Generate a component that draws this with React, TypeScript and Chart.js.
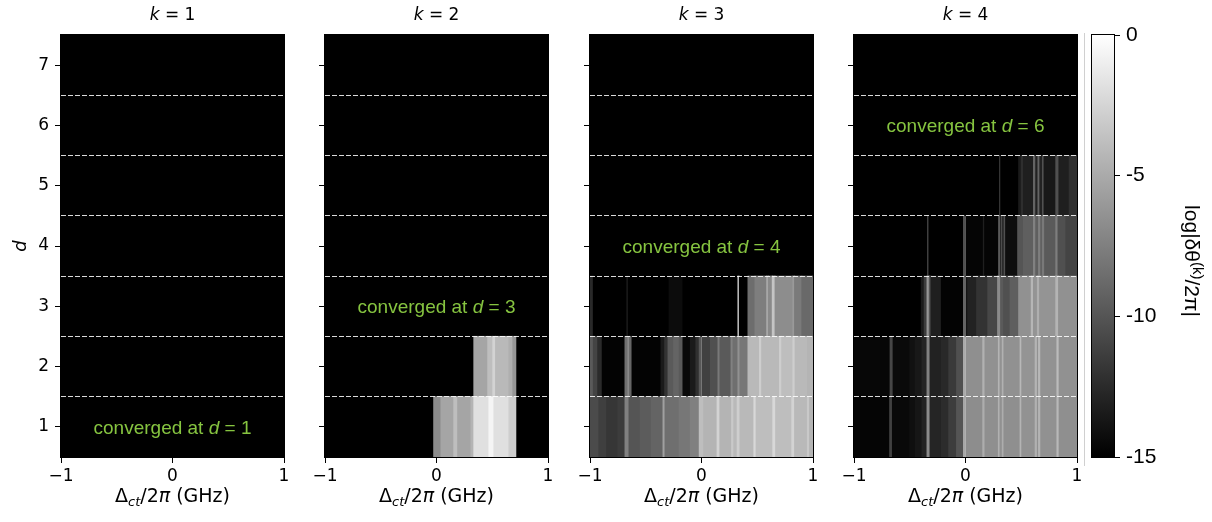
import React, { useEffect, useRef } from 'react';
import { Chart, registerables } from 'chart.js';
Chart.register(...registerables);

// ---------- data ----------
const K_VALUES = [1, 2, 3, 4];
const D_VALUES = [1, 2, 3, 4, 5, 6, 7];
const ROW_EDGES = [1.5, 2.5, 3.5, 4.5, 5.5, 6.5];
const X_TICKS = [-1, 0, 1];
const CB_TICKS = [-15, -10, -5, 0];
const CONVERGED_AT = [1, 3, 4, 6];
const V_MIN = -15;
const V_MAX = 0;
const X_MIN = -1;
const X_MAX = 1;

// each row: list of [x where segment starts, log value]; segment ends at next start (or x = 1)
const BLACK_ROW = [[-1, -15]];

const K1_ROWS = [BLACK_ROW, BLACK_ROW, BLACK_ROW, BLACK_ROW, BLACK_ROW, BLACK_ROW, BLACK_ROW];

const K2_D1 = [[-1, -15], [-0.025, -6.8], [0.04, -5.3], [0.155, -3.8], [0.19, -5.3], [0.31, -4.4], [0.335, -1.8], [0.47, -0.6], [0.515, -1.8], [0.65, -2.9], [0.72, -15]];
const K2_D2 = [[-1, -15], [0.335, -5.3], [0.46, -3.8], [0.505, -2.6], [0.53, -4.1], [0.65, -4.7], [0.685, -6.2], [0.72, -15]];
const K2_ROWS = [K2_D1, K2_D2, BLACK_ROW, BLACK_ROW, BLACK_ROW, BLACK_ROW, BLACK_ROW];

const K3_D1 = [[-1, -10.6], [-0.92, -11.3], [-0.85, -11.8], [-0.75, -11.5], [-0.686, -7.4], [-0.65, -10.0], [-0.55, -9.6], [-0.45, -9.1], [-0.345, -5.6], [-0.327, -8.5], [-0.2, -8.0], [-0.1, -7.5], [-0.02, -3.8], [0.02, -4.4], [0.14, -2.6], [0.165, -4.4], [0.27, -3.2], [0.29, -4.1], [0.32, -2.9], [0.345, -4.1], [0.47, -2.3], [0.49, -3.8], [0.64, -2.3], [0.665, -3.8], [0.81, -2.6], [0.835, -4.1], [0.95, -3.2], [0.97, -4.4]];
const K3_D2 = [[-1, -9.7], [-0.97, -11.0], [-0.93, -12.5], [-0.89, -14.8], [-0.686, -8.5], [-0.66, -7.0], [-0.645, -9.0], [-0.623, -14.8], [-0.363, -13.5], [-0.33, -12.0], [-0.3, -9.7], [-0.25, -9.1], [-0.2, -9.7], [-0.166, -14.5], [-0.1, -13.5], [-0.05, -12.2], [-0.02, -9.8], [0.0, -11.2], [0.08, -10.3], [0.148, -7.9], [0.166, -9.7], [0.265, -7.4], [0.283, -8.5], [0.327, -6.5], [0.345, -8.0], [0.417, -4.1], [0.52, -2.9], [0.54, -4.1], [0.7, -2.9], [0.72, -3.8], [0.82, -2.9], [0.84, -4.1], [0.95, -4.4]];
const K3_D3 = [[-1, -12.6], [-0.97, -15], [-0.67, -13.6], [-0.655, -15], [-0.29, -14.3], [-0.166, -15], [0.327, -3.2], [0.34, -15], [0.417, -8.6], [0.48, -7.6], [0.585, -5.0], [0.6, -6.9], [0.635, -3.4], [0.66, -6.7], [0.82, -6.0], [0.835, -7.8], [0.9, -8.8]];
const K3_ROWS = [K3_D1, K3_D2, K3_D3, BLACK_ROW, BLACK_ROW, BLACK_ROW, BLACK_ROW];

const K4_D1 = [[-1, -14.7], [-0.68, -11.2], [-0.655, -14.5], [-0.5, -14.1], [-0.45, -13.7], [-0.39, -13.0], [-0.345, -6.8], [-0.318, -12.8], [-0.216, -12.4], [-0.15, -11.4], [-0.08, -10.0], [-0.018, -5.2], [0.0, -6.7], [0.155, -4.8], [0.175, -6.6], [0.295, -4.6], [0.31, -6.5], [0.33, -4.8], [0.345, -6.6], [0.49, -4.4], [0.505, -6.4], [0.625, -4.6], [0.645, -6.5], [0.655, -4.4], [0.675, -6.5], [0.82, -4.2], [0.84, -6.6]];
const K4_D2 = [[-1, -14.6], [-0.676, -10.9], [-0.649, -14.4], [-0.5, -14.0], [-0.45, -13.6], [-0.39, -12.9], [-0.345, -7.4], [-0.318, -13.0], [-0.216, -12.6], [-0.15, -11.6], [-0.08, -10.3], [-0.018, -5.0], [0.0, -6.6], [0.155, -4.6], [0.175, -6.5], [0.295, -4.4], [0.31, -6.4], [0.33, -4.6], [0.345, -6.5], [0.49, -4.2], [0.505, -6.3], [0.625, -4.4], [0.645, -6.4], [0.655, -4.2], [0.675, -6.4], [0.82, -4.0], [0.84, -6.5]];
const K4_D3 = [[-1, -15], [-0.396, -13.5], [-0.37, -11.5], [-0.345, -6.2], [-0.325, -10.0], [-0.31, -13.2], [-0.216, -14.8], [-0.018, -9.1], [0.0, -13.8], [0.02, -13.0], [0.1, -12.0], [0.2, -10.8], [0.288, -6.8], [0.315, -9.7], [0.342, -10.3], [0.4, -9.4], [0.477, -6.5], [0.59, -4.3], [0.61, -6.3], [0.645, -4.7], [0.665, -6.3], [0.81, -4.4], [0.835, -6.5]];
const K4_D4 = [[-1, -15], [-0.34, -10.9], [-0.328, -15], [-0.018, -10.3], [0.0, -14.7], [0.16, -13.2], [0.172, -14.7], [0.297, -9.7], [0.315, -13.0], [0.325, -9.7], [0.335, -14.0], [0.345, -10.3], [0.36, -14.2], [0.468, -10.0], [0.52, -9.4], [0.61, -7.4], [0.63, -9.4], [0.655, -7.6], [0.675, -9.4], [0.69, -7.9], [0.71, -9.7], [0.81, -7.6], [0.83, -10.3], [0.9, -11.0]];
const K4_D5 = [[-1, -15], [0.306, -11.5], [0.316, -15], [0.477, -13.5], [0.5, -12.3], [0.52, -13.2], [0.61, -9.1], [0.63, -13.0], [0.65, -9.1], [0.667, -13.0], [0.694, -8.5], [0.703, -13.6], [0.81, -10.3], [0.838, -13.2], [0.93, -12.2]];
const K4_ROWS = [K4_D1, K4_D2, K4_D3, K4_D4, K4_D5, BLACK_ROW, BLACK_ROW];

const PANEL_ROWS = [K1_ROWS, K2_ROWS, K3_ROWS, K4_ROWS];

// ---------- layout / style ----------
const PANEL_LEFTS = [61, 325, 590, 854];
const PANEL_W = 223;
const PLOT_TOP = 35;
const PLOT_H = 422;
const Y_AXIS_W = 60;
const RIGHT_PAD = 20;
const CANVAS_H = 522;
const CB_CANVAS_LEFT = 1080;
const CB_LEFT = 1092;
const CB_W = 22;
const AX_FONT = '"DejaVu Sans"';
const ANN_FONT = '"Liberation Sans"';
const GREEN = '#86c440';

function grayColor(v: number) {
  const t = Math.max(0, Math.min(1, (v - V_MIN) / (V_MAX - V_MIN)));
  const g = Math.round(255 * t);
  return `rgb(${g},${g},${g})`;
}

type Part = { t: string; italic?: boolean; scale?: number; dy?: number };

function drawRich(ctx: CanvasRenderingContext2D, parts: Part[], family: string, size: number, x: number, y: number, color: string) {
  const fonts = parts.map(p => `${p.italic ? 'italic ' : ''}${Math.round(size * (p.scale || 1))}px ${family}`);
  const widths = parts.map((p, i) => { ctx.font = fonts[i]; return ctx.measureText(p.t).width; });
  const total = widths.reduce((a, b) => a + b, 0);
  let cx = x - total / 2;
  ctx.textAlign = 'left';
  ctx.textBaseline = 'alphabetic';
  ctx.fillStyle = color;
  parts.forEach((p, i) => {
    ctx.font = fonts[i];
    ctx.fillText(p.t, cx, y + (p.dy || 0));
    cx += widths[i];
  });
}

function fmtX(v: number) {
  return v < 0 ? '\u2212' + Math.abs(v) : String(v);
}

function Panel({ idx }: { idx: number }) {
  const ref = useRef<HTMLCanvasElement>(null);
  useEffect(() => {
    const rows = PANEL_ROWS[idx];
    const datasets = rows.map((bps, r) => {
      const d = D_VALUES[r];
      return {
        data: bps.map((bp, i) => ({ y: d, x: [bp[0], i + 1 < bps.length ? bps[i + 1][0] : X_MAX] })),
        backgroundColor: bps.map(bp => grayColor(bp[1])),
        borderWidth: 0,
        grouped: false,
        barPercentage: 1,
        categoryPercentage: 1,
        inflateAmount: 0.5,
        xAxisID: 'x',
        yAxisID: 'y',
      };
    });
    const textPlugin = {
      id: 'panelText',
      afterDraw(chart: any) {
        const { ctx, chartArea, scales } = chart;
        ctx.save();
        ctx.strokeStyle = '#000';
        ctx.lineWidth = 1;
        ctx.strokeRect(chartArea.left - 0.5, chartArea.top - 0.5, chartArea.right - chartArea.left + 1, chartArea.bottom - chartArea.top + 1);
        const cx = (chartArea.left + chartArea.right) / 2;
        drawRich(ctx, [{ t: 'k', italic: true }, { t: ' = ' + K_VALUES[idx] }], AX_FONT, 17, cx, 20, '#000');
        drawRich(ctx, [{ t: 'Δ' }, { t: 'ct', italic: true, scale: 0.7, dy: 4 }, { t: '/2' }, { t: 'π', italic: true }, { t: ' (GHz)' }], AX_FONT, 19, cx, 502, '#000');
        const dc = CONVERGED_AT[idx];
        drawRich(ctx, [{ t: 'converged at ' }, { t: 'd', italic: true }, { t: ' = ' + dc }], ANN_FONT, 19, scales.x.getPixelForValue(0), scales.y.getPixelForValue(dc) + 7, GREEN);
        if (idx === 0) {
          ctx.save();
          ctx.translate(25, (chartArea.top + chartArea.bottom) / 2);
          ctx.rotate(-Math.PI / 2);
          drawRich(ctx, [{ t: 'd', italic: true }], AX_FONT, 18, 0, 0, '#000');
          ctx.restore();
        }
        ctx.restore();
      },
    };
    const chart = new Chart(ref.current as HTMLCanvasElement, {
      type: 'bar',
      data: { datasets: datasets as any },
      options: {
        animation: false,
        responsive: false,
        indexAxis: 'y',
        events: [],
        layout: { padding: { top: PLOT_TOP, right: RIGHT_PAD, left: 0, bottom: 0 } },
        plugins: { legend: { display: false }, tooltip: { enabled: false }, title: { display: false } },
        scales: {
          x: {
            type: 'linear', min: X_MIN, max: X_MAX, offset: false, beginAtZero: false,
            afterBuildTicks: (s: any) => { s.ticks = X_TICKS.map(value => ({ value })); },
            afterFit: (s: any) => { s.height = CANVAS_H - PLOT_TOP - PLOT_H; },
            grid: { offset: false, drawOnChartArea: false, drawTicks: true, tickLength: 6, tickColor: '#000', tickWidth: 1 },
            border: { display: false },
            ticks: { font: { family: 'DejaVu Sans', size: 17 }, color: '#000', padding: 3, autoSkip: false, maxRotation: 0, callback: (v: any) => fmtX(Number(v)) },
          },
          y: {
            type: 'linear', position: 'left', min: 0.5, max: 7.5, offset: false,
            afterBuildTicks: (s: any) => { s.ticks = D_VALUES.map(value => ({ value })); },
            afterFit: (s: any) => { s.width = Y_AXIS_W; },
            grid: { offset: false, drawOnChartArea: false, drawTicks: true, tickLength: 6, tickColor: '#000', tickWidth: 1 },
            border: { display: false },
            ticks: { display: idx === 0, font: { family: 'DejaVu Sans', size: 17 }, color: '#000', padding: 6, autoSkip: false, callback: (v: any) => String(v) },
          },
          y2: {
            type: 'linear', axis: 'y', position: 'left', min: 0.5, max: 7.5, offset: false,
            afterBuildTicks: (s: any) => { s.ticks = ROW_EDGES.map(value => ({ value })); },
            afterFit: (s: any) => { s.width = 0; },
            grid: { offset: false, drawOnChartArea: true, drawTicks: false, color: 'rgba(255,255,255,0.85)', lineWidth: 1, z: 1 },
            border: { display: false, dash: [5, 2] },
            ticks: { display: false },
          },
        } as any,
      },
      plugins: [textPlugin],
    });
    return () => chart.destroy();
  }, [idx]);
  const w = Y_AXIS_W + PANEL_W + RIGHT_PAD;
  return (
    <canvas ref={ref} width={w} height={CANVAS_H}
      style={{ position: 'absolute', left: PANEL_LEFTS[idx] - Y_AXIS_W, top: 0, width: w, height: CANVAS_H }} />
  );
}

function ColorBar() {
  const ref = useRef<HTMLCanvasElement>(null);
  useEffect(() => {
    const cbPlugin = {
      id: 'cbText',
      afterDraw(chart: any) {
        const { ctx, chartArea } = chart;
        ctx.save();
        ctx.strokeStyle = '#000';
        ctx.lineWidth = 1;
        ctx.strokeRect(chartArea.left - 0.5, chartArea.top - 0.5, chartArea.right - chartArea.left + 1, chartArea.bottom - chartArea.top + 1);
        ctx.strokeStyle = '#d0d0d0';
        ctx.beginPath();
        ctx.moveTo(4.5, 33);
        ctx.lineTo(4.5, 466);
        ctx.stroke();
        ctx.translate(105, 261);
        ctx.rotate(Math.PI / 2);
        drawRich(ctx, [{ t: 'log|δθ' }, { t: '(k)', scale: 0.7, dy: -8 }, { t: '/2π|' }], ANN_FONT, 21, 0, 0, '#000');
        ctx.restore();
      },
    };
    const chart = new Chart(ref.current as HTMLCanvasElement, {
      type: 'bar',
      data: {
        labels: ['cb'],
        datasets: [{
          data: [[V_MIN, V_MAX]] as any,
          backgroundColor: (c: any) => {
            const ch = c.chart;
            const ys = ch.scales && ch.scales.y;
            if (!ys || !ch.chartArea) return '#888';
            const g = ch.ctx.createLinearGradient(0, ys.getPixelForValue(V_MIN), 0, ys.getPixelForValue(V_MAX));
            g.addColorStop(0, grayColor(V_MIN));
            g.addColorStop(1, grayColor(V_MAX));
            return g;
          },
          borderWidth: 0,
          barPercentage: 1,
          categoryPercentage: 1,
          inflateAmount: 0,
        }],
      },
      options: {
        animation: false,
        responsive: false,
        events: [],
        layout: { padding: { top: PLOT_TOP, left: CB_LEFT - CB_CANVAS_LEFT, right: 0, bottom: CANVAS_H - PLOT_TOP - PLOT_H } },
        plugins: { legend: { display: false }, tooltip: { enabled: false } },
        scales: {
          x: { display: false },
          y: {
            type: 'linear', position: 'right', min: V_MIN, max: V_MAX, beginAtZero: false,
            afterBuildTicks: (s: any) => { s.ticks = CB_TICKS.map(value => ({ value })); },
            afterFit: (s: any) => { s.width = 1212 - CB_LEFT - CB_W; },
            grid: { drawOnChartArea: false, drawTicks: true, tickLength: 6, tickColor: '#000', tickWidth: 1 },
            border: { display: false },
            ticks: { font: { family: 'Liberation Sans', size: 21 }, color: '#000', padding: 6, autoSkip: false, callback: (v: any) => String(v) },
          },
        } as any,
      },
      plugins: [cbPlugin],
    });
    return () => chart.destroy();
  }, []);
  const w = 1212 - CB_CANVAS_LEFT;
  return (
    <canvas ref={ref} width={w} height={CANVAS_H}
      style={{ position: 'absolute', left: CB_CANVAS_LEFT, top: 0, width: w, height: CANVAS_H }} />
  );
}

export default function App() {
  return (
    <div style={{ position: 'absolute', left: 0, top: 0, width: 1212, height: 522, background: '#fff', overflow: 'hidden' }}>
      {K_VALUES.map((k, i) => <Panel key={k} idx={i} />)}
      <ColorBar />
    </div>
  );
}
